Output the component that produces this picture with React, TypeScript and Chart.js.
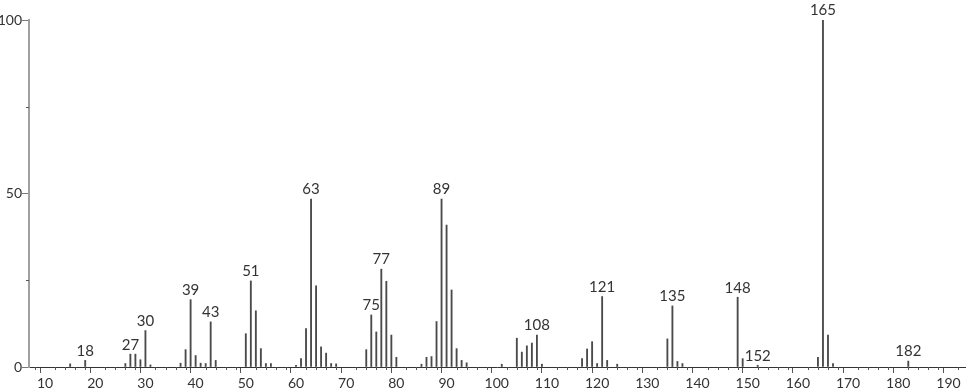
import React, { useEffect, useRef } from "react";
import { Chart, registerables } from "chart.js";

Chart.register(...registerables);

const masses = [15, 18, 26, 27, 28, 29, 30, 31, 37, 38, 39, 40, 41, 42, 43, 44, 50, 51, 52, 53, 54, 55, 60, 61, 62, 63, 64, 65, 66, 67, 68, 74, 75, 76, 77, 78, 79, 80, 85, 86, 87, 88, 89, 90, 91, 92, 93, 94, 101, 104, 105, 106, 107, 108, 109, 117, 118, 119, 120, 121, 122, 124, 134, 135, 136, 137, 148, 149, 152, 164, 165, 166, 167, 182];
const intensities = [0.9, 1.9, 1.0, 3.7, 3.7, 2.1, 10.5, 0.6, 1.1, 5.0, 19.4, 3.3, 1.1, 1.0, 13.0, 1.9, 9.6, 24.8, 16.2, 5.3, 1.0, 1.0, 0.5, 2.4, 11.1, 48.4, 23.4, 5.8, 4.0, 1.0, 0.9, 5.0, 15.0, 10.1, 28.2, 24.7, 9.2, 2.8, 0.8, 2.8, 3.0, 13.1, 48.4, 40.9, 22.2, 5.3, 1.9, 1.2, 0.8, 8.3, 4.3, 6.1, 6.9, 9.2, 0.8, 2.4, 5.2, 7.3, 1.0, 20.3, 1.9, 0.8, 8.1, 17.6, 1.6, 1.0, 20.1, 2.4, 0.5, 2.8, 100, 9.2, 1.0, 1.7];
const labeledMasses = [18, 27, 30, 39, 43, 51, 63, 75, 77, 89, 108, 121, 135, 148, 152, 165, 182];
const xMin = 6.8;
const xMax = 193.3;
const yTicksLabeled = [0, 50, 100];

const FONT = "Lato, 'DejaVu Sans', sans-serif";

const peakLabels = {
  id: "peakLabels",
  afterDatasetsDraw(chart: any) {
    const meta = chart.getDatasetMeta(0);
    const ctx = chart.ctx;
    ctx.save();
    ctx.font = `15px ${FONT}`;
    ctx.fillStyle = "#333";
    ctx.textAlign = "center";
    ctx.textBaseline = "bottom";
    masses.forEach((m, i) => {
      if (!labeledMasses.includes(m)) return;
      const el = meta.data[i];
      ctx.fillText(String(m), el.x, el.y - 2);
    });
    ctx.restore();
  },
};

const minorTicks = {
  id: "minorTicks",
  afterDraw(chart: any) {
    const ctx = chart.ctx;
    const xs = chart.scales.x;
    const ys = chart.scales.y;
    ctx.save();
    ctx.strokeStyle = "#555";
    ctx.lineWidth = 1;
    ctx.beginPath();
    xs.ticks.forEach((t: any) => {
      if (t.value % 10 === 0) return;
      const px = Math.round(xs.getPixelForValue(t.value)) + 0.5;
      ctx.moveTo(px, ys.bottom);
      ctx.lineTo(px, ys.bottom + 3);
    });
    ys.ticks.forEach((t: any) => {
      if (yTicksLabeled.includes(t.value)) return;
      const py = Math.round(ys.getPixelForValue(t.value)) + 0.5;
      ctx.moveTo(xs.left - 3, py);
      ctx.lineTo(xs.left, py);
    });
    ctx.stroke();
    ctx.restore();
  },
};

export default function App() {
  const ref = useRef<HTMLCanvasElement | null>(null);
  useEffect(() => {
    if (!ref.current) return;
    const chart = new Chart(ref.current, {
      type: "bar",
      data: {
        datasets: [
          {
            data: masses.map((m, i) => ({ x: m, y: intensities[i] })),
            backgroundColor: "#4a4a4a",
            barThickness: 1.2,
            borderWidth: 0,
          },
        ],
      },
      options: {
        responsive: false,
        animation: false,
        layout: { padding: { top: 20, right: 1, left: 0, bottom: 0 } },
        plugins: { legend: { display: false }, tooltip: { enabled: false } },
        scales: {
          x: {
            type: "linear",
            min: xMin,
            max: xMax,
            offset: false,
            grid: {
              drawOnChartArea: false,
              drawTicks: true,
              tickLength: 6,
              tickColor: (c: any) => (c.tick && c.tick.value % 10 === 0 ? "#555" : "rgba(0,0,0,0)"),
            },
            border: { color: "#333", width: 1 },
            ticks: {
              stepSize: 2,
              includeBounds: false,
              autoSkip: false,
              maxRotation: 0,
              padding: 2,
              color: "#333",
              font: { family: FONT, size: 14 },
              callback: (v: any) => (Number(v) % 10 === 0 ? String(v) : ""),
            },
            afterFit: (s: any) => {
              s.height = 22;
            },
          },
          y: {
            min: 0,
            max: 100,
            grid: {
              drawOnChartArea: false,
              drawTicks: true,
              tickLength: 7,
              tickColor: (c: any) => (c.tick && yTicksLabeled.includes(c.tick.value) ? "#777" : "rgba(0,0,0,0)"),
            },
            border: { color: "#a0a0a0", width: 2 },
            ticks: {
              stepSize: 25,
              padding: 0,
              color: "#333",
              font: { family: FONT, size: 14 },
              callback: (v: any) => (yTicksLabeled.includes(Number(v)) ? String(v) : ""),
            },
            afterFit: (s: any) => {
              s.width = 29;
            },
          },
        },
      },
      plugins: [peakLabels, minorTicks],
    });
    return () => chart.destroy();
  }, []);
  return (
    <div style={{ position: "absolute", left: 0, top: 0, width: 966, height: 389, background: "#fff" }}>
      <canvas ref={ref} width={966} height={389} style={{ display: "block" }} />
    </div>
  );
}
